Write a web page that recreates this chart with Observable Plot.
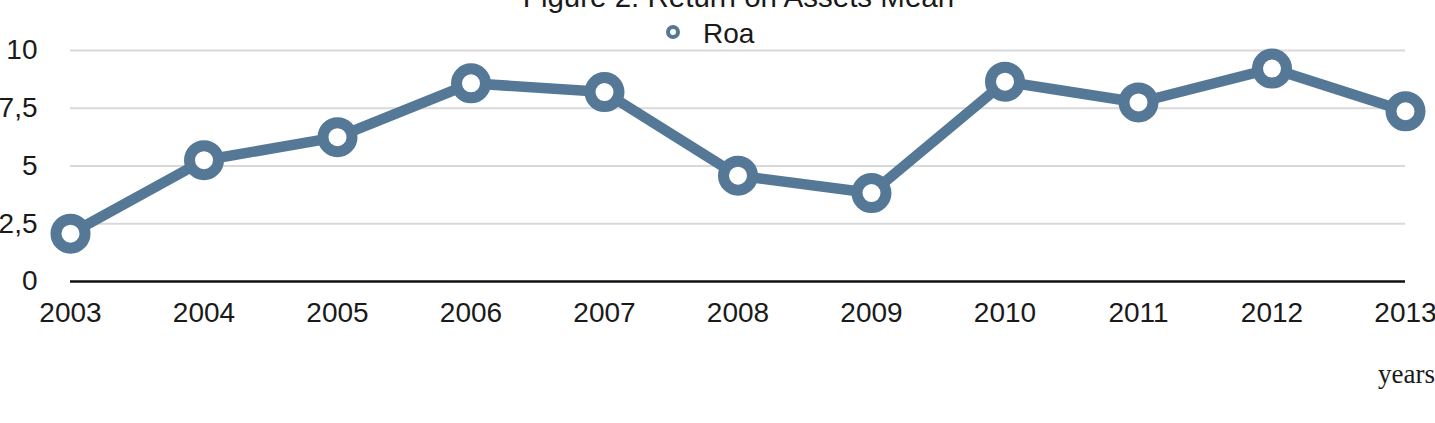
<!DOCTYPE html>
<html>
<head>
<meta charset="utf-8">
<script src="https://cdn.jsdelivr.net/npm/d3@7"></script>
<script src="https://cdn.jsdelivr.net/npm/@observablehq/plot@0.6"></script>
<style>
  html, body { margin: 0; padding: 0; background: #fff; overflow: hidden; }
  #wrap { position: relative; width: 1435px; height: 423px; }
  #wrap > svg { position: absolute; left: 0; top: 0; }
  #overlay { position: absolute; left: 0; top: 0; pointer-events: none; }
</style>
</head>
<body>
<div id="wrap"></div>
<script>
const title = "Figure 2: Return on Assets Mean";
const seriesName = "Roa";
const xAxisLabel = "years";
const years = [2003, 2004, 2005, 2006, 2007, 2008, 2009, 2010, 2011, 2012, 2013];
const roa = [2.07, 5.25, 6.25, 8.58, 8.2, 4.58, 3.83, 8.65, 7.75, 9.22, 7.37];
const yTicks = [0, 2.5, 5, 7.5, 10];

const color = "#557896";
const font = "'Liberation Sans', Arial, Helvetica, sans-serif";
const data = years.map((year, i) => ({year, value: roa[i]}));

const chart = Plot.plot({
  width: 1435,
  height: 423,
  marginLeft: 70,
  marginRight: 30,
  marginTop: 50,
  marginBottom: 142,
  style: {fontFamily: font, fontSize: "28px", color: "#1a1a1a", background: "transparent", overflow: "visible"},
  x: {domain: [2003, 2013], axis: null},
  y: {domain: [0, 10], axis: null},
  marks: [
    Plot.ruleY(yTicks.filter(d => d !== 0), {stroke: "#d9d9d9", strokeWidth: 2}),
    Plot.axisY({ticks: yTicks, tickSize: 0, tickPadding: 33, fontSize: 28,
      tickFormat: d => String(d).replace(".", ","), label: null}),
    Plot.axisX({ticks: years, tickSize: 0, tickPadding: 21, fontSize: 28,
      tickFormat: d => String(d), label: null}),
    Plot.ruleY([0], {stroke: "#111", strokeWidth: 2.5}),
    Plot.line(data, {x: "year", y: "value", stroke: color, strokeWidth: 10.5, strokeLinejoin: "round"}),
    Plot.dot(data, {x: "year", y: "value", r: 14.5, fill: "white", stroke: color, strokeWidth: 11})
  ]
});
const wrap = document.getElementById("wrap");
wrap.appendChild(chart);

const ns = "http://www.w3.org/2000/svg";
const ov = document.createElementNS(ns, "svg");
ov.setAttribute("id", "overlay");
ov.setAttribute("width", 1435);
ov.setAttribute("height", 423);
function addText(txt, x, y, attrs) {
  const t = document.createElementNS(ns, "text");
  t.textContent = txt;
  t.setAttribute("x", x);
  t.setAttribute("y", y);
  for (const k in attrs) t.setAttribute(k, attrs[k]);
  ov.appendChild(t);
}
addText(title, 738.5, 7, {"text-anchor": "middle", "font-family": font, "font-size": 29.5, fill: "#1a1a1a"});
const c = document.createElementNS(ns, "circle");
c.setAttribute("cx", 673); c.setAttribute("cy", 32); c.setAttribute("r", 5);
c.setAttribute("fill", "white"); c.setAttribute("stroke", color); c.setAttribute("stroke-width", 4);
ov.appendChild(c);
addText(seriesName, 703, 43, {"font-family": font, "font-size": 28, fill: "#1a1a1a"});
addText(xAxisLabel, 1378, 383, {"font-family": "'Liberation Serif', 'Times New Roman', serif", "font-size": 27, fill: "#1a1a1a"});
wrap.appendChild(ov);
</script>
</body>
</html>
